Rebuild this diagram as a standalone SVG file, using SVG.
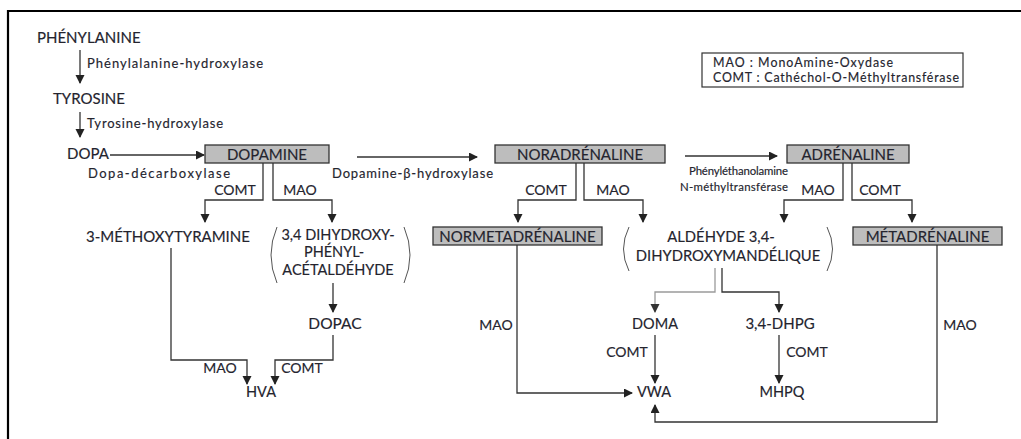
<svg xmlns="http://www.w3.org/2000/svg" width="1021" height="439" viewBox="0 0 1021 439">
<defs>
<marker id="ah" markerUnits="userSpaceOnUse" markerWidth="10" markerHeight="10" refX="8" refY="4.5" orient="auto">
<path d="M0,0 L9,4.5 L0,9 z" fill="#222"/>
</marker>
<marker id="ahg" markerUnits="userSpaceOnUse" markerWidth="10" markerHeight="10" refX="8" refY="4.5" orient="auto">
<path d="M0,0 L9,4.5 L0,9 z" fill="#333"/>
</marker>
<style>
text{font-family:Lato,"Open Sans",sans-serif;fill:#24242e;stroke:#24242e;stroke-width:0.15}
.big{font-size:15px}
.box-t{font-size:15px}
.en{font-size:13px}
.lb{font-size:14px}
.md{font-size:14.5px}
.c{text-anchor:middle}
.box{fill:#bdbdbd;stroke:#333;stroke-width:1.3}
.ln{fill:none;stroke:#333;stroke-width:1.3}
.lg{fill:none;stroke:#9a9a9a;stroke-width:1.3}
.par{fill:none;stroke:#555;stroke-width:1}
</style>
</defs>
<rect width="1021" height="439" fill="#fff"/>
<path d="M8,439 V11 H1021" fill="none" stroke="#000" stroke-width="2.2"/>

<g id="legend">
<rect x="702" y="53" width="261" height="34" fill="none" stroke="#333" stroke-width="1.2"/>
<text style="font-size:12.4px" x="713" y="66.5" textLength="180" lengthAdjust="spacing">MAO : MonoAmine-Oxydase</text>
<text style="font-size:12.4px" x="713" y="82" textLength="246" lengthAdjust="spacing">COMT : Cathéchol-O-Méthyltransférase</text>
</g>

<g id="connectors">
<path class="ln" d="M80,50 V83" marker-end="url(#ah)"/>
<path class="ln" d="M80,112 V137" marker-end="url(#ah)"/>
<path class="ln" d="M110,155 H204" marker-end="url(#ah)"/>
<path class="ln" d="M263,163 V200 H205 V222" marker-end="url(#ah)"/>
<path class="ln" d="M273,163 V200 H332 V222" marker-end="url(#ah)"/>
<path class="ln" d="M333,283 V312" marker-end="url(#ah)"/>
<path class="ln" d="M171,248 V360 H247 V384" marker-end="url(#ah)"/>
<path class="ln" d="M333,335 V360 H275 V384" marker-end="url(#ah)"/>
<path class="ln" d="M357,157 H477" marker-end="url(#ah)"/>
<path class="ln" d="M576,163 V200 H518 V222" marker-end="url(#ah)"/>
<path class="ln" d="M584,163 V200 H643 V222" marker-end="url(#ah)"/>
<path class="ln" d="M685,156 H777" marker-end="url(#ah)"/>
<path class="ln" d="M843,163 V200 H784 V222" marker-end="url(#ah)"/>
<path class="ln" d="M852,163 V200 H912 V222" marker-end="url(#ah)"/>
<path class="ln" d="M517,245 V393 H632" marker-end="url(#ah)"/>
<path class="lg" d="M715,268 V292 H655 V312" marker-end="url(#ahg)"/>
<path class="ln" d="M722,268 V292 H779 V312" marker-end="url(#ah)"/>
<path class="ln" d="M655,335 V383" marker-end="url(#ah)"/>
<path class="ln" d="M779,335 V383" marker-end="url(#ah)"/>
<path class="ln" d="M937,245 V422 H655 V405" marker-end="url(#ah)"/>
<text class="en" x="87" y="68" textLength="176" lengthAdjust="spacing">Phénylalanine-hydroxylase</text>
<text class="en" x="87" y="128" textLength="136" lengthAdjust="spacing">Tyrosine-hydroxylase</text>
<text class="en" x="88" y="178" textLength="142" lengthAdjust="spacing">Dopa-décarboxylase</text>
<text class="lb c" x="235" y="195">COMT</text>
<text class="lb c" x="300" y="195">MAO</text>
<text class="lb c" x="220" y="373">MAO</text>
<text class="lb c" x="302" y="373">COMT</text>
<text class="en" x="332" y="178" textLength="161" lengthAdjust="spacing">Dopamine-β-hydroxylase</text>
<text class="lb c" x="546" y="195">COMT</text>
<text class="lb c" x="613" y="195">MAO</text>
<text style="font-size:11.4px" x="689" y="175"><tspan x="689" y="175" textLength="99" lengthAdjust="spacing">Phényléthanolamine</tspan><tspan x="680" y="191" textLength="108" lengthAdjust="spacing">N-méthyltransférase</tspan></text>
<text class="lb c" x="818" y="195">MAO</text>
<text class="lb c" x="880" y="195">COMT</text>
<text class="lb c" x="496" y="330">MAO</text>
<text class="lb c" x="960" y="330">MAO</text>
<text class="lb c" x="627" y="357">COMT</text>
<text class="lb c" x="807" y="357">COMT</text>
</g>

<g id="phenylalanine"><text class="big" x="37" y="43">PHÉNYLANINE</text></g>
<g id="tyrosine"><text class="big" x="53" y="104">TYROSINE</text></g>
<g id="dopa"><text class="big" x="67" y="159">DOPA</text></g>
<g id="dopamine">
<rect class="box" x="205" y="145" width="124" height="18"/>
<text class="box-t c" x="267" y="159.5">DOPAMINE</text>
</g>
<g id="methoxytyramine"><text class="big c" x="168" y="242">3-MÉTHOXYTYRAMINE</text></g>
<g id="dopal">
<path class="par" d="M277,227 Q265,255 277,283"/>
<path class="par" d="M404,227 Q416,255 404,283"/>
<text class="c" style="font-size:14.5px" x="338" y="239.5"><tspan x="338" y="239.5">3,4 DIHYDROXY-</tspan><tspan x="334" y="257">PHÉNYL-</tspan><tspan x="338" y="274.5">ACÉTALDÉHYDE</tspan></text>
</g>
<g id="dopac"><text class="big c" x="335" y="329" style="font-size:15.5px">DOPAC</text></g>
<g id="hva"><text class="md c" x="261" y="397">HVA</text></g>
<g id="noradrenaline">
<rect class="box" x="495" y="145" width="170" height="18"/>
<text class="box-t c" x="580" y="159.5">NORADRÉNALINE</text>
</g>
<g id="normetadrenaline">
<rect class="box" x="433" y="227" width="169" height="18"/>
<text class="box-t c" x="517.5" y="241.5">NORMETADRÉNALINE</text>
</g>
<g id="aldehyde">
<path class="par" d="M629,227 Q618,249 629,271"/>
<path class="par" d="M827,227 Q838,249 827,271"/>
<text class="c" style="font-size:14.8px" x="721" y="242"><tspan x="721" y="242">ALDÉHYDE 3,4-</tspan><tspan x="728" y="260.5">DIHYDROXYMANDÉLIQUE</tspan></text>
</g>
<g id="adrenaline">
<rect class="box" x="787" y="145" width="122" height="18"/>
<text class="box-t c" x="848" y="159.5">ADRÉNALINE</text>
</g>
<g id="metadrenaline">
<rect class="box" x="853" y="227" width="149" height="18"/>
<text class="box-t c" x="927.5" y="241.5">MÉTADRÉNALINE</text>
</g>
<g id="doma"><text class="md c" x="655" y="329">DOMA</text></g>
<g id="dhpg"><text class="md c" x="780" y="329" style="font-size:15px">3,4-DHPG</text></g>
<g id="vwa"><text class="md c" x="654" y="397">VWA</text></g>
<g id="mhpq"><text class="md c" x="782" y="397">MHPQ</text></g>
</svg>
